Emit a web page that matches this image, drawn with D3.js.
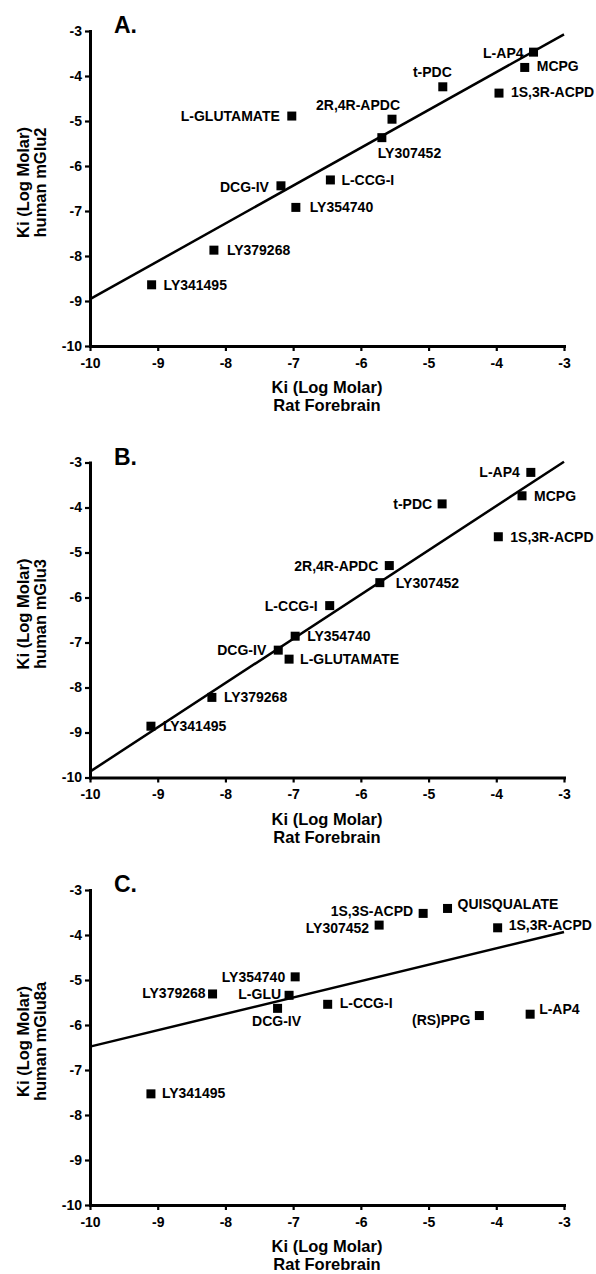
<!DOCTYPE html>
<html>
<head>
<meta charset="utf-8">
<script src="https://cdn.jsdelivr.net/npm/d3@7"></script>
<style>
body { margin: 0; background: #fff; }
text { font-family: "Liberation Sans", Arial, Helvetica, sans-serif; font-weight: bold; fill: #000; }
</style>
</head>
<body>
<svg width="596" height="1274"></svg>
<script>
// shared axis ticks (log molar)
const tickValues = [-10, -9, -8, -7, -6, -5, -4, -3]

// panel A: human mGlu2
const namesA = ["L-GLUTAMATE", "DCG-IV", "2R,4R-APDC", "LY307452", "t-PDC", "L-AP4", "MCPG", "1S,3R-ACPD", "L-CCG-I", "LY354740", "LY379268", "LY341495"]
const ratA   = [-7.02, -7.18, -5.54, -5.69, -4.79, -3.45, -3.58, -3.96, -6.45, -6.96, -8.17, -9.09]
const humanA = [-4.89, -6.44, -4.96, -5.37, -4.24, -3.47, -3.81, -4.38, -6.31, -6.92, -7.87, -8.64]
const fitA = {slope: 0.841, intercept: -0.55}

// panel B: human mGlu3
const namesB = ["L-AP4", "MCPG", "t-PDC", "1S,3R-ACPD", "2R,4R-APDC", "LY307452", "L-CCG-I", "LY354740", "L-GLUTAMATE", "DCG-IV", "LY379268", "LY341495"]
const ratB   = [-3.49, -3.62, -4.80, -3.97, -5.58, -5.72, -6.46, -6.97, -7.06, -7.22, -8.20, -9.10]
const humanB = [-3.22, -3.74, -3.92, -4.65, -5.29, -5.67, -6.18, -6.86, -7.37, -7.17, -8.22, -8.86]
const fitB = {slope: 0.984, intercept: -0.03}

// panel C: human mGlu8a
const namesC = ["LY354740", "LY379268", "L-GLU", "DCG-IV", "LY341495", "1S,3S-ACPD", "QUISQUALATE", "LY307452", "1S,3R-ACPD", "L-CCG-I", "(RS)PPG", "L-AP4"]
const ratC   = [-6.97, -8.19, -7.06, -7.23, -9.10, -5.08, -4.72, -5.73, -3.98, -6.49, -4.25, -3.50]
const humanC = [-4.93, -5.31, -5.34, -5.63, -7.53, -3.52, -3.41, -3.78, -3.84, -5.54, -5.79, -5.76]
const fitC = {slope: 0.364, intercept: -2.84}

// label placement for each point: [dx, dy, anchor]
const R = [12, 5, "start"], L = [-12, 5, "end"]
const labelsA = [L, [-12, 6, "end"], [8, -9, "end"], [-4, 20, "start"], [9, -10, "end"], [-10, 6, "end"], [12, 4, "start"], [12, 4, "start"], [11, 5, "start"], [14, 5, "start"], [13, 5, "start"], R]
const labelsB = [[-11, 5, "end"], R, [-10, 5, "end"], R, [-11, 5, "end"], [16, 5, "start"], L, R, [11, 5, "start"], L, R, R]
const labelsC = [[-10, 5, "end"], [-7, 4, "end"], [-8, 4, "end"], [-1, 18, "middle"], [11, 4, "start"], [-10, 3, "end"], [10, 1, "start"], [-10, 8, "end"], [11, 2, "start"], [12, 4, "start"], [-9, 9, "end"], [9, 0, "start"]]

const panels = [
  {letter: "A.", receptor: "human mGlu2", top: 31, names: namesA, x: ratA, y: humanA, fit: fitA, labels: labelsA},
  {letter: "B.", receptor: "human mGlu3", top: 462.5, names: namesB, x: ratB, y: humanB, fit: fitB, labels: labelsB},
  {letter: "C.", receptor: "human mGlu8a", top: 890, names: namesC, x: ratC, y: humanC, fit: fitC, labels: labelsC},
]

const svg = d3.select("svg")
const left = 90, right = 564, plotH = 315, box = 9

const x = d3.scaleLinear().domain([-10, -3]).range([left, right])
const fmt = d => String(d)  // plain hyphen minus, no decimals

panels.forEach(function(p) {
  const y = d3.scaleLinear().domain([-10, -3]).range([p.top + plotH, p.top])
  const g = svg.append("g")

  // axes
  const xAxis = d3.axisBottom(x).tickValues(tickValues).tickFormat(fmt).tickSize(5).tickSizeOuter(0).tickPadding(7)
  const yAxis = d3.axisLeft(y).tickValues(tickValues).tickFormat(fmt).tickSize(5).tickSizeOuter(0).tickPadding(3)
  const gx = g.append("g").attr("transform", `translate(0,${p.top + plotH})`).call(xAxis)
  const gy = g.append("g").attr("transform", `translate(${left},0)`).call(yAxis)
  ;[gx, gy].forEach(function(a) {
    a.select(".domain").attr("stroke", "#000").attr("stroke-width", 3).attr("stroke-linecap", "square")
    a.selectAll(".tick line").attr("stroke", "#000").attr("stroke-width", 2.2)
    a.selectAll(".tick text").style("font-family", "'Liberation Sans', Arial, sans-serif").style("font-weight", "bold").style("font-size", "14px").attr("fill", "#000")
  })

  // regression line
  g.append("line")
    .attr("x1", x(-10)).attr("y1", y(p.fit.slope * -10 + p.fit.intercept))
    .attr("x2", x(-3)).attr("y2", y(p.fit.slope * -3 + p.fit.intercept))
    .attr("stroke", "#000").attr("stroke-width", 2.5)

  // points
  const idx = d3.range(p.names.length)
  g.selectAll("rect.pt").data(idx).join("rect").attr("class", "pt")
    .attr("x", i => x(p.x[i]) - box / 2).attr("y", i => y(p.y[i]) - box / 2)
    .attr("width", box).attr("height", box).attr("fill", "#000")

  g.selectAll("text.lbl").data(idx).join("text").attr("class", "lbl")
    .attr("x", i => x(p.x[i]) + p.labels[i][0])
    .attr("y", i => y(p.y[i]) + p.labels[i][1])
    .attr("text-anchor", i => p.labels[i][2])
    .style("font-size", "14px")
    .text(i => p.names[i])

  // panel letter
  g.append("text").attr("x", 114).attr("y", p.top + 2).style("font-size", "23px").text(p.letter)

  // x title
  const cx = (left + right) / 2
  g.append("text").attr("x", cx).attr("y", p.top + plotH + 47).attr("text-anchor", "middle").style("font-size", "16.5px").text("Ki (Log Molar)")
  g.append("text").attr("x", cx).attr("y", p.top + plotH + 65).attr("text-anchor", "middle").style("font-size", "16.5px").text("Rat Forebrain")

  // y title
  const cy = p.top + plotH / 2 - 6
  g.append("text").attr("transform", `translate(29,${cy}) rotate(-90)`).attr("text-anchor", "middle").style("font-size", "16.5px").text("Ki (Log Molar)")
  g.append("text").attr("transform", `translate(46,${cy}) rotate(-90)`).attr("text-anchor", "middle").style("font-size", "16.5px").text(p.receptor)
})
</script>
</body>
</html>
